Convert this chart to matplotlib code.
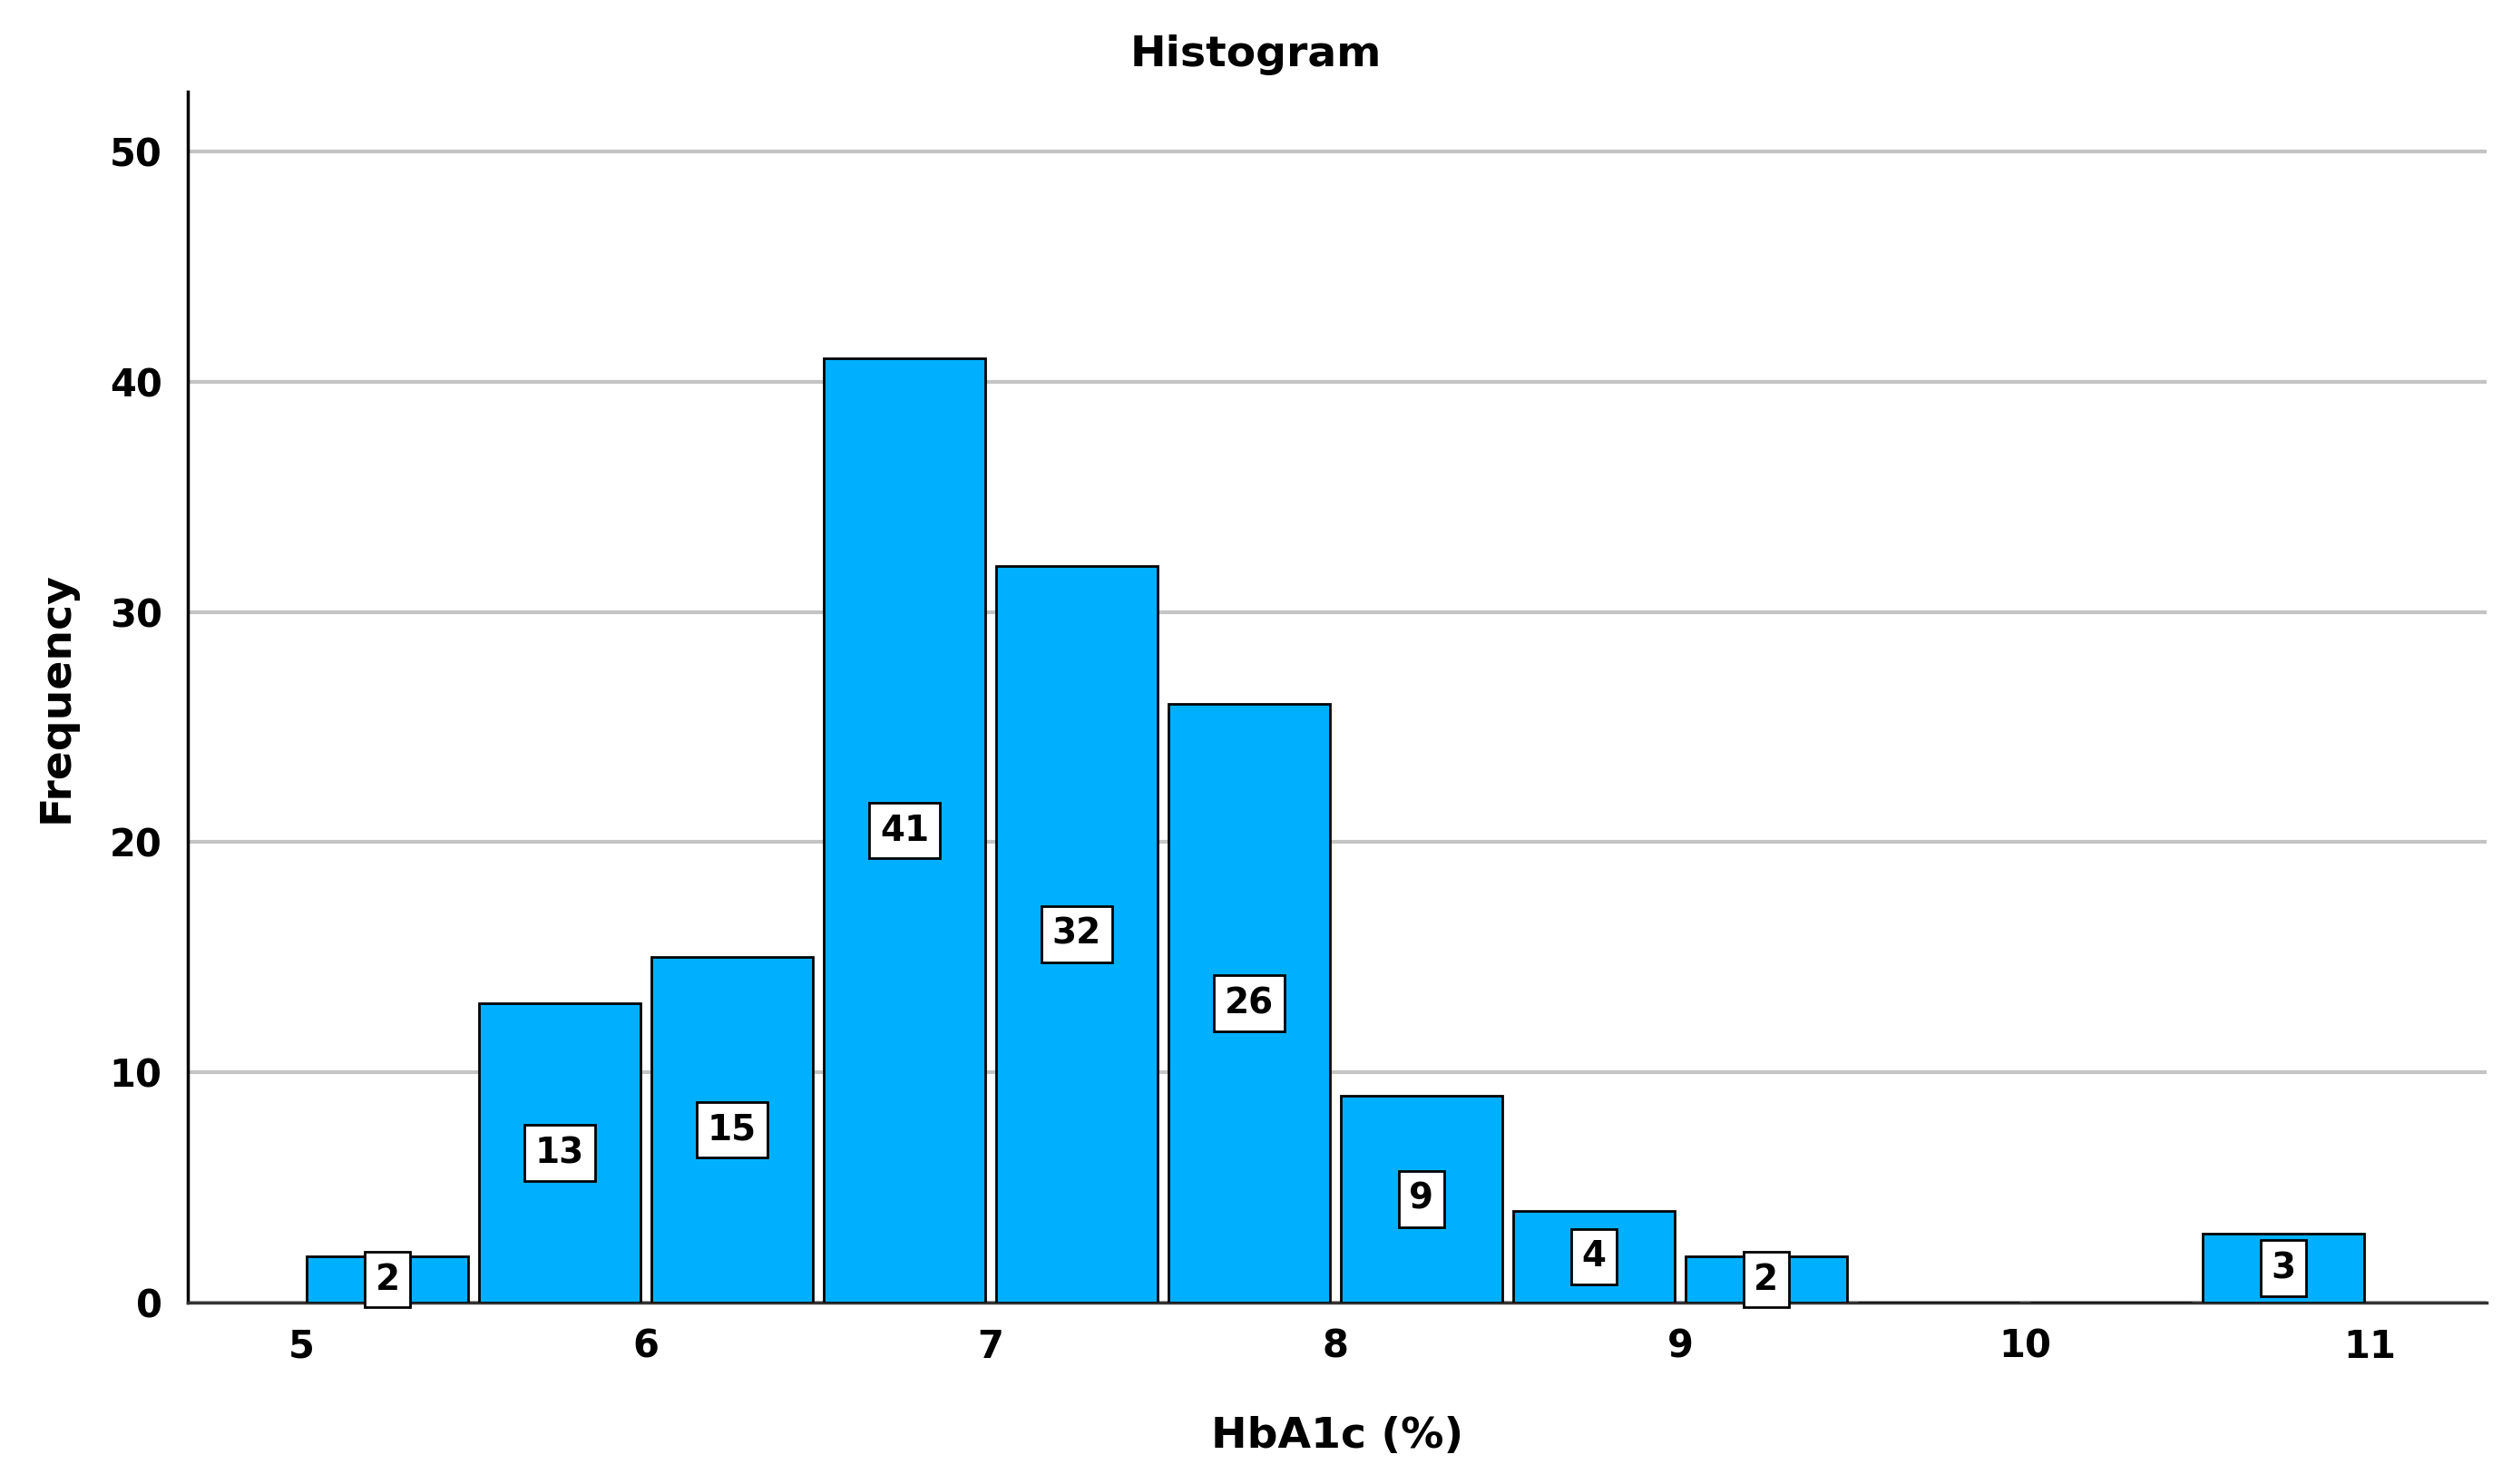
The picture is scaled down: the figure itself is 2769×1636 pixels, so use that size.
import matplotlib
matplotlib.use("Agg")
import matplotlib.pyplot as plt

bin_centers = [5.25, 5.75, 6.25, 6.75, 7.25, 7.75, 8.25, 8.75, 9.25, 9.75, 10.25, 10.75]
counts = [2, 13, 15, 41, 32, 26, 9, 4, 2, 0, 0, 3]
xticks = [5, 6, 7, 8, 9, 10, 11]
yticks = [0, 10, 20, 30, 40, 50]

plt.rcParams['font.family'] = ['DejaVu Sans']

fig = plt.figure(figsize=(27.69, 16.36), dpi=100)
ax = fig.add_axes([0.0746, 0.1222, 0.9153, 0.8162])

ax.bar(bin_centers, counts, width=0.47, color='#00B0FF', edgecolor='black',
       linewidth=2.0, zorder=3)

for x, c in zip(bin_centers, counts):
    if c > 0:
        ax.text(x, c / 2, str(c), ha='center', va='center', fontsize=28,
                fontweight='bold', zorder=5,
                bbox=dict(boxstyle='square,pad=0.3', fc='white', ec='black', lw=2.0))

ax.set_xlim(4.67, 11.34)
ax.set_ylim(0, 52.6)
ax.set_xticks(xticks)
ax.set_yticks(yticks)
ax.set_xticklabels([str(t) for t in xticks], fontsize=30, fontweight='bold')
ax.set_yticklabels([str(t) for t in yticks], fontsize=30, fontweight='bold')
ax.tick_params(length=0, pad=20)
ax.yaxis.grid(True, color='#c4c4c4', linewidth=3, zorder=0)
ax.set_axisbelow(True)

for s in ['top', 'right']:
    ax.spines[s].set_visible(False)
ax.spines['left'].set_linewidth(2.5)
ax.spines['bottom'].set_linewidth(2.5)
ax.spines['bottom'].set_color('#333333')

fig.suptitle('Histogram', x=0.5, y=0.963, va='center', fontsize=34, fontweight='bold')
ax.set_xlabel('HbA1c (%)', fontsize=34, fontweight='bold', labelpad=40)
ax.set_ylabel('Frequency', fontsize=34, fontweight='bold', labelpad=26)

fig.savefig('out.png', dpi=100, facecolor='white')
